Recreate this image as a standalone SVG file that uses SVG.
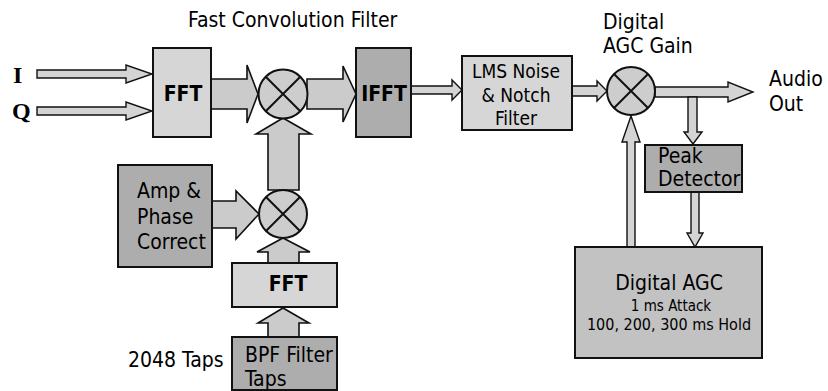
<svg xmlns="http://www.w3.org/2000/svg" width="828" height="391" viewBox="0 0 828 391">
<style>
.t{font-family:'DejaVu Sans Condensed','DejaVu Sans',sans-serif;font-stretch:condensed;font-size:21px;fill:#000}
.sm{font-size:15px}
.md{font-size:16px}
.b{font-weight:bold}
.c{text-anchor:middle}
.serif{font-family:'Liberation Serif',serif;font-size:24px;font-weight:bold;fill:#000}
.box{stroke:#111;stroke-width:2}
.lt{fill:#d6d6d6}
.dk{fill:#adadad}
.mid{fill:#c2c2c2}
.arr{fill:#cbcbcb;stroke:#111;stroke-width:1.6;stroke-linejoin:miter}
.arrl{fill:#d4d4d4;stroke:#111;stroke-width:1.4}
.mix{fill:#cdcdcd;stroke:#111;stroke-width:2}
.x{stroke:#111;stroke-width:2}
</style>
<rect width="828" height="391" fill="#fff"/>

<g id="connectors">
  <polygon class="arrl" points="37,70 126,70 126,65 152,74 126,83 126,78 37,78"/>
  <polygon class="arrl" points="37,107 126,107 126,102 152,111 126,120 126,115 37,115"/>
  <polygon class="arr" points="211,79 247,79 247,65 258,94 247,123 247,109 211,109"/>
  <polygon class="arr" points="307,79 343,79 343,66 356,94 343,122 343,109 307,109"/>
  <polygon class="arrl" points="411,86 452,86 452,80 462,90 452,100 452,94 411,94"/>
  <polygon class="arrl" points="572,86 597,86 597,81 607,91 597,101 597,96 572,96"/>
  <polygon class="arrl" points="655,87 728,87 728,82 753,92 728,102 728,97 655,97"/>
  <polygon class="arrl" points="688,97 697,97 697,132 702,132 693,144 684,132 688,132"/>
  <polygon class="arrl" points="691,192 699,192 699,233 703,233 695,247 687,233 691,233"/>
  <polygon class="arrl" points="627,247 627,142 622,142 631,116 640,142 635,142 635,247"/>
  <polygon class="arr" points="268,190 268,134 256,134 283,118 311,134 299,134 299,190"/>
  <polygon class="arr" points="212,201 236,201 236,191 259,214 236,239 236,228 212,228"/>
  <polygon class="arr" points="268,263 268,252 257,252 283,238 310,252 299,252 299,263"/>
  <polygon class="arr" points="268,337 268,323 258,323 283,308 309,323 299,323 299,337"/>
</g>

<text class="t" x="188" y="27">Fast Convolution Filter</text>
<text class="t" x="603" y="29">Digital</text>
<text class="t" x="603" y="53">AGC Gain</text>
<text class="t" x="769" y="86">Audio</text>
<text class="t" x="769" y="111">Out</text>
<text class="serif" x="13" y="83">I</text>
<text class="serif" x="12" y="119">Q</text>
<text class="t" x="128" y="367">2048 Taps</text>

<g id="fft1">
  <rect class="box lt" x="153" y="48" width="58" height="89"/>
  <text class="t b c" x="183" y="101">FFT</text>
</g>
<g id="mixer1">
  <circle class="mix" cx="283" cy="94" r="24.5"/>
  <path class="x" d="M265.7,76.7L300.3,111.3M300.3,76.7L265.7,111.3"/>
</g>
<g id="ifft">
  <rect class="box dk" x="356" y="48" width="55" height="89"/>
  <text class="t b c" x="384" y="101">IFFT</text>
</g>
<g id="lms">
  <rect class="box lt" x="462" y="56" width="110" height="74"/>
  <text class="t c" x="516" y="78" style="font-size:19px">LMS Noise</text>
  <text class="t c" x="516" y="102" style="font-size:19px">&amp; Notch</text>
  <text class="t c" x="516" y="125" style="font-size:19px">Filter</text>
</g>
<g id="mixer3">
  <circle class="mix" cx="631" cy="91" r="24"/>
  <path class="x" d="M614,74L648,108M648,74L614,108"/>
</g>
<g id="peak">
  <rect class="box dk" x="645" y="145" width="97" height="47"/>
  <text class="t" x="658" y="163">Peak</text>
  <text class="t" x="658" y="186">Detector</text>
</g>
<g id="agc">
  <rect class="box mid" x="575" y="247" width="187" height="111"/>
  <text class="t c" x="669" y="290">Digital AGC</text>
  <text class="t sm c" x="671" y="311">1 ms Attack</text>
  <text class="t md c" x="669" y="330">100, 200, 300 ms Hold</text>
</g>
<g id="amp">
  <rect class="box dk" x="118" y="165" width="94" height="102"/>
  <text class="t" x="137" y="198">Amp &amp;</text>
  <text class="t" x="137" y="224">Phase</text>
  <text class="t" x="137" y="249">Correct</text>
</g>
<g id="mixer2">
  <circle class="mix" cx="283" cy="214" r="24"/>
  <path class="x" d="M266,197L300,231M300,197L266,231"/>
</g>
<g id="fft2">
  <rect class="box lt" x="232" y="263" width="105" height="44"/>
  <text class="t b c" x="288" y="291">FFT</text>
</g>
<g id="bpf">
  <rect class="box dk" x="232" y="337" width="105" height="53"/>
  <text class="t" x="245" y="362">BPF Filter</text>
  <text class="t" x="245" y="386">Taps</text>
</g>
</svg>
